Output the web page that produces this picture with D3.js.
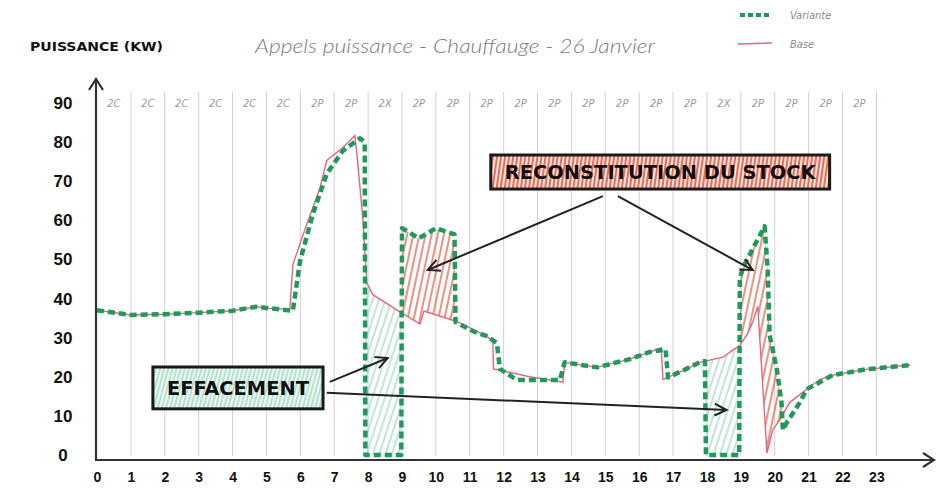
<!DOCTYPE html>
<html>
<head>
<meta charset="utf-8">
<script src="https://cdn.jsdelivr.net/npm/d3@7"></script>
<style>
  body { margin: 0; background: #fff; }
  svg { display: block; font-family: "Liberation Sans Narrow", "DejaVu Sans Condensed", sans-serif; }
</style>
</head>
<body>
<svg id="svg01" width="948" height="500"></svg>
<script>
// hours on the x axis
const hourTicks = d3.range(0, 24)
const valueTicks = d3.range(0, 100, 10)
// tariff period written at the top of each hour
const periodLabels = ["2C","2C","2C","2C","2C","2C","2P","2P","2X","2P","2P","2P","2P","2P","2P","2P","2P","2P","2X","2P","2P","2P","2P"]

// [hour, kW]
const baseData = [
  [0,37],[1,35.8],[2,36],[3,36.4],[4,36.9],[4.7,37.9],[5.1,37.5],[5.69,37.2],
  [5.78,48.7],[6.19,59],[6.58,68.3],[6.78,75.3],[7.26,78.6],[7.61,81.7],[7.67,77],
  [7.85,60],[7.96,44],[8.14,41],[8.94,36.6],[9.53,33.5],[9.65,36.8],[10.6,34.2],
  [11.2,31.7],[11.68,29.4],[11.7,22],[12.77,20],[13.75,18.6],[13.8,23.7],
  [14.75,22.4],[15.72,24.5],[16.3,26.3],[16.65,27.4],[16.7,19.3],[17.29,21.6],
  [17.79,23.7],[18.47,25],[18.76,26.8],[18.97,28],[19.2,31],[19.35,34],[19.5,38],
  [19.77,0.5],[19.94,6.4],[20.15,9],[20.44,13.4],[20.94,16.8],[21.33,19.3],
  [21.7,20.4],[22.7,21.9],[24,23]
]
const varianteData = [
  [0,37],[1,35.8],[2,36],[3,36.4],[4,36.9],[4.7,37.9],[5.1,37.5],[5.78,36.9],
  [5.99,49.5],[6.37,61.6],[6.78,71.9],[7.26,77.8],[7.76,81],[7.9,80],[7.92,0],
  [8.98,0],[9.0,58],[9.5,55.4],[10.0,58],[10.55,56.4],[10.58,34],[11.09,31.7],
  [11.5,30.4],[11.8,28.6],[11.89,22],[12.39,19.2],[13.66,19.2],[13.8,23.7],
  [14.75,22.4],[15.72,24.5],[16.3,26.3],[16.78,27],[16.85,19.8],[17.29,21.6],
  [17.79,23.7],[17.94,24],[17.97,0],[18.95,0],[18.97,45],[19.05,47.7],[19.7,58.5],
  [19.79,47.7],[19.85,30.6],[20.06,22],[20.2,13.4],[20.24,6.4],[20.35,8.2],
  [20.74,13.4],[20.94,16.8],[21.33,18.6],[21.7,20.4],[22.7,21.9],[24,23]
]
// hour windows of the two hatched zones
const effacementWindows = [[7.9, 9.0], [17.94, 18.98]]
const stockWindows = [[8.98, 10.62], [18.95, 20.3]]

// annotation boxes and arrows in [hour, kW]
const boxes = [
  {label: "EFFACEMENT", x0: 1.65, x1: 6.67, y0: 22.5, y1: 11.8, fill: "hatchGreenBox"},
  {label: "RECONSTITUTION DU STOCK", x0: 11.62, x1: 21.62, y0: 76.7, y1: 68.0, fill: "hatchRedBox"}
]
const arrows = [
  [[6.87, 18.7], [8.58, 24.8]],
  [[6.78, 15.9], [18.58, 11.5]],
  [[14.93, 66.2], [9.76, 47.3]],
  [[15.37, 66.2], [19.35, 47.3]]
]

const width = 948, height = 500
const green = "#1f9a5c", pink = "#e3677c"

const x = d3.scaleLinear().domain([0, 24.7]).range([97, 934])
const y = d3.scaleLinear().domain([0, 90]).range([455, 103])

const svg = d3.select("#svg01")
const defs = svg.append("defs")

// hatch patterns
function hatch(id, color, gap, sw, angle, bg) {
  const p = defs.append("pattern").attr("id", id)
    .attr("patternUnits", "userSpaceOnUse")
    .attr("width", gap).attr("height", 20)
    .attr("patternTransform", `rotate(${angle})`)
  if (bg) p.append("rect").attr("width", gap).attr("height", 20).attr("fill", bg)
  p.append("line").attr("x1", gap / 2).attr("x2", gap / 2).attr("y1", 0).attr("y2", 20)
    .attr("stroke", color).attr("stroke-width", sw)
}
hatch("hatchRed", "#e8604e", 6, 1.4, 12)
hatch("hatchGreen", "#9fd8c0", 6, 1.3, 18)
hatch("hatchRedBox", "#e86d58", 4, 2, 8, "#fbe6e0")
hatch("hatchGreenBox", "#a9dcc6", 4, 1.6, 15, "#eef8f3")

defs.append("marker").attr("id", "arrow")
  .attr("markerUnits", "userSpaceOnUse")
  .attr("markerWidth", 16).attr("markerHeight", 16)
  .attr("refX", 13).attr("refY", 7).attr("orient", "auto")
  .append("path").attr("d", "M1,1 L13,7 L1,13")
  .attr("fill", "none").attr("stroke", "#222").attr("stroke-width", 2)

defs.append("marker").attr("id", "axisArrow")
  .attr("markerUnits", "userSpaceOnUse")
  .attr("markerWidth", 20).attr("markerHeight", 20)
  .attr("refX", 12).attr("refY", 8).attr("orient", "auto")
  .append("path").attr("d", "M1,1 L12,8 L1,15")
  .attr("fill", "none").attr("stroke", "#333").attr("stroke-width", 2.2)

// clip areas above / below each curve
const areaAbove = d3.area().x(d => x(d[0])).y0(0).y1(d => y(d[1]))
const areaBelow = d3.area().x(d => x(d[0])).y0(height).y1(d => y(d[1]))

function clip(id, dPath) {
  defs.append("clipPath").attr("id", id).append("path").attr("d", dPath)
}
clip("aboveBase", areaAbove(baseData))
clip("belowBase", areaBelow(baseData))

function windowsClip(id, wins) {
  const c = defs.append("clipPath").attr("id", id)
  wins.forEach(w => c.append("rect")
    .attr("x", x(w[0])).attr("width", x(w[1]) - x(w[0]))
    .attr("y", 0).attr("height", height))
}
windowsClip("effWin", effacementWindows)
windowsClip("stockWin", stockWindows)

// title and axis label
svg.append("text").attr("x", 30).attr("y", 51)
  .attr("font-size", 13).attr("font-weight", "bold").attr("fill", "#111")
  .attr("textLength", 133).attr("lengthAdjust", "spacingAndGlyphs")
  .text("PUISSANCE (KW)")

svg.append("text").attr("x", 255).attr("y", 53)
  .attr("font-size", 20).attr("fill", "#7a7a7a")
  .attr("font-family", "Lato, sans-serif").attr("font-weight", 300).attr("font-style", "italic")
  .attr("textLength", 400).attr("lengthAdjust", "spacingAndGlyphs")
  .text("Appels puissance - Chauffauge - 26 Janvier")

// legend
const lg = svg.append("g")
lg.append("line").attr("x1", 740).attr("x2", 772).attr("y1", 15).attr("y2", 15)
  .attr("stroke", green).attr("stroke-width", 4).attr("stroke-dasharray", "5,3")
lg.append("text").attr("x", 790).attr("y", 19).text("Variante")
lg.append("line").attr("x1", 738).attr("x2", 772).attr("y1", 44).attr("y2", 43)
  .attr("stroke", pink).attr("stroke-width", 1.5)
lg.append("text").attr("x", 790).attr("y", 48).text("Base")
lg.selectAll("text").attr("font-size", 11).attr("font-style", "italic").attr("fill", "#8a8a8a")

// vertical grid
svg.append("g").selectAll("line").data(hourTicks.slice(1))
  .join("line")
  .attr("x1", d => x(d)).attr("x2", d => x(d))
  .attr("y1", 92).attr("y2", 456)
  .attr("stroke", "#d2d2d2").attr("stroke-width", 1)

// period labels
svg.append("g").selectAll("text").data(periodLabels)
  .join("text")
  .attr("x", (d, i) => x(i + 0.5)).attr("y", 107)
  .attr("text-anchor", "middle").attr("font-size", 11)
  .attr("font-style", "italic").attr("fill", "#9a9a9a")
  .text(d => d)

// hatched zones
svg.append("g").attr("clip-path", "url(#effWin)")
  .append("g").attr("clip-path", "url(#belowBase)")
  .append("path").attr("d", areaAbove(varianteData)).attr("fill", "url(#hatchGreen)")

svg.append("g").attr("clip-path", "url(#stockWin)")
  .append("g").attr("clip-path", "url(#aboveBase)")
  .append("path").attr("d", areaBelow(varianteData)).attr("fill", "url(#hatchRed)")

// series
const line = d3.line().x(d => x(d[0])).y(d => y(d[1]))
svg.append("path").attr("d", line(baseData))
  .attr("fill", "none").attr("stroke", pink).attr("stroke-width", 1.4)
svg.append("path").attr("d", line(varianteData))
  .attr("fill", "none").attr("stroke", green).attr("stroke-width", 4.5)
  .attr("stroke-dasharray", "7,4").attr("stroke-linejoin", "round")

// axes
const xAxis = g => g
  .attr("transform", `translate(0,${y(0) + 5})`)
  .call(d3.axisBottom(x).tickValues(hourTicks).tickSize(0).tickPadding(12).tickFormat(d3.format("d")))
  .call(g => g.select(".domain").remove())
  .call(g => g.selectAll("text").attr("font-size", 14).attr("font-weight", "bold").attr("fill", "#111")
    .attr("font-family", "inherit"))
const yAxis = g => g
  .attr("transform", `translate(75,0)`)
  .call(d3.axisLeft(y).tickValues(valueTicks).tickSize(0).tickPadding(0).tickFormat(d3.format("d")))
  .call(g => g.select(".domain").remove())
  .call(g => g.selectAll("text").attr("font-size", 17).attr("font-weight", "bold").attr("fill", "#111")
    .attr("text-anchor", "middle").attr("x", -12).attr("font-family", "inherit"))
svg.append("g").call(xAxis)
svg.append("g").call(yAxis)

svg.append("line").attr("x1", x(0) - 1).attr("x2", x(0) - 1).attr("y1", y(0) + 5).attr("y2", 79)
  .attr("stroke", "#333").attr("stroke-width", 2.2).attr("marker-end", "url(#axisArrow)")
svg.append("line").attr("x1", x(0) - 2).attr("x2", x.range()[1]).attr("y1", y(0) + 5).attr("y2", y(0) + 5)
  .attr("stroke", "#333").attr("stroke-width", 2.2).attr("marker-end", "url(#axisArrow)")

// annotation arrows
svg.append("g").selectAll("line").data(arrows)
  .join("line")
  .attr("x1", d => x(d[0][0])).attr("y1", d => y(d[0][1]))
  .attr("x2", d => x(d[1][0])).attr("y2", d => y(d[1][1]))
  .attr("stroke", "#222").attr("stroke-width", 2).attr("marker-end", "url(#arrow)")

// annotation boxes
const bx = svg.append("g").selectAll("g").data(boxes).join("g")
bx.append("rect")
  .attr("x", d => x(d.x0)).attr("y", d => y(d.y0))
  .attr("width", d => x(d.x1) - x(d.x0)).attr("height", d => y(d.y1) - y(d.y0))
  .attr("fill", d => `url(#${d.fill})`).attr("stroke", "#1a1a1a").attr("stroke-width", 3)
bx.append("text")
  .attr("x", d => (x(d.x0) + x(d.x1)) / 2).attr("y", d => (y(d.y0) + y(d.y1)) / 2 + 7)
  .attr("text-anchor", "middle").attr("font-size", 19).attr("font-weight", "bold").attr("fill", "#111")
  .attr("textLength", d => (x(d.x1) - x(d.x0)) - 28).attr("lengthAdjust", "spacingAndGlyphs")
  .text(d => d.label)
</script>
</body>
</html>
